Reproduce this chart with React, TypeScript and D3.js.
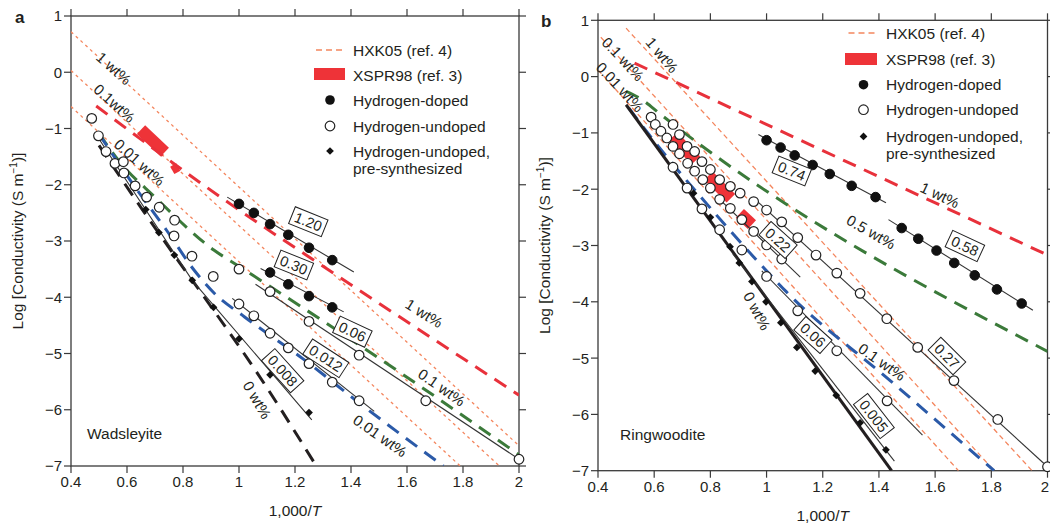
import React from 'react';
import * as d3 from 'd3';

type P = [number, number];

// ---------------- shared axis ticks ----------------
const xTickValues = [0.4, 0.6, 0.8, 1.0, 1.2, 1.4, 1.6, 1.8, 2.0];
const xTickLabels = ['0.4', '0.6', '0.8', '1', '1.2', '1.4', '1.6', '1.8', '2'];
const yTickValues = [1, 0, -1, -2, -3, -4, -5, -6, -7];
const yTickLabels = ['1', '0', '−1', '−2', '−3', '−4', '−5', '−6', '−7'];

// ---------------- panel a: wadsleyite ----------------
const aHxk1: P[] = [[0.4, 0.72], [2.0, -6.64]];
const aHxk01: P[] = [[0.4, 0.03], [1.93, -7.0]];
const aHxk001: P[] = [[0.4, -0.61], [1.79, -7.0]];
const aModel1: P[] = [[0.49, -0.6], [0.98, -2.38], [1.34, -3.58], [2.0, -5.74]];
const aModel01: P[] = [[0.5, -1.09], [0.57, -1.57], [0.7, -2.22], [0.91, -3.16], [1.0, -3.45], [1.43, -4.85], [2.0, -6.8]];
const aModel001: P[] = [[0.5, -1.1], [0.64, -2.12], [0.74, -2.8], [0.84, -3.52], [0.91, -3.92], [1.02, -4.35], [1.23, -5.1], [1.44, -5.92], [1.73, -7.0]];
const aModel0: P[] = [[0.5, -1.3], [0.656, -2.45], [0.78, -3.33], [0.875, -3.99], [1.063, -5.33], [1.276, -7.0]];
const aXspr: P[][] = [[[0.65, -1.02], [0.735, -1.42]], [[0.765, -1.65], [0.78, -1.78]]];
const aFit120: P[] = [[0.958, -2.22], [1.41, -3.55]];
const aFit030: P[] = [[1.077, -3.49], [1.374, -4.26]];
const aFit006: P[] = [[1.059, -3.77], [2.0, -6.88]];
const aFit0012: P[] = [[0.976, -4.02], [1.483, -6.03]];
const aFit0008: P[] = [[0.49, -1.11], [0.833, -3.7], [1.26, -6.18]];
const aDoped120: P[] = [[1.0, -2.34], [1.053, -2.5], [1.111, -2.7], [1.176, -2.89], [1.25, -3.12], [1.333, -3.34]];
const aDoped030: P[] = [[1.111, -3.56], [1.176, -3.77], [1.25, -3.98], [1.333, -4.18]];
const aUndopedHighT: P[] = [[0.474, -0.82], [0.498, -1.13], [0.525, -1.41], [0.557, -1.62], [0.587, -1.59], [0.589, -1.79], [0.629, -2.02], [0.67, -2.22], [0.715, -2.4], [0.77, -2.63], [0.768, -2.91], [0.832, -3.27], [0.908, -3.63]];
const aUndoped006: P[] = [[1.0, -3.5], [1.111, -3.9], [1.25, -4.43], [1.429, -5.03], [1.667, -5.84], [2.0, -6.88]];
const aUndoped0012: P[] = [[1.0, -4.12], [1.053, -4.33], [1.111, -4.64], [1.176, -4.9], [1.25, -5.18], [1.333, -5.51], [1.429, -5.84]];
const aPresynth: P[] = [[0.667, -2.44], [0.714, -2.85], [0.769, -3.25], [0.833, -3.7], [0.909, -4.18], [1.0, -4.74], [1.111, -5.38], [1.25, -6.05]];
const aBoxLabels = ['1.20', '0.30', '0.06', '0.012', '0.008'];
const aBoxAt: P[] = [[1.2475, -2.657], [1.196, -3.427], [1.405, -4.612], [1.31, -5.085], [1.156, -5.306]];
const aBoxRot = [22, 22, 25, 33, 48];
const aLineLabels = ['1 wt%', '0.1 wt%', '0.01 wt%', '0 wt%', '1 wt%', '0.1wt%', '0.01 wt%'];
const aLineLabelAt: P[] = [[1.661, -4.285], [1.724, -5.601], [1.504, -6.461], [1.065, -5.827], [0.553, 0.07], [0.555, -0.55], [0.645, -1.6]];
const aLineLabelRot = [32, 35, 35, 60, 42, 42, 42];

// ---------------- panel b: ringwoodite ----------------
const bHxk1: P[] = [[0.5, 0.86], [1.945, -7.0]];
const bHxk01: P[] = [[0.41, 0.7], [1.81, -7.0]];
const bHxk001: P[] = [[0.4, 0.12], [1.683, -7.0]];
const bModel1: P[] = [[0.53, 0.24], [2.0, -3.17]];
const bModel05: P[] = [[0.5, -0.26], [0.56, -0.42], [0.62, -0.66], [2.0, -4.88]];
const bModel01: P[] = [[0.51, -0.56], [0.58, -1.02], [0.82, -2.45], [0.95, -3.18], [1.07, -3.82], [1.44, -5.4], [1.81, -7.0]];
const bModel0: P[] = [[0.5, -0.5], [1.445, -7.0]];
const bXspr: P[][] = [[[0.668, -1.06], [0.748, -1.49]], [[0.793, -1.76], [0.873, -2.16]], [[0.905, -2.43], [0.948, -2.63]]];
const bFit074: P[] = [[0.971, -1.03], [1.425, -2.24]];
const bFit058: P[] = [[1.434, -2.54], [1.948, -4.15]];
const bFit027: P[] = [[0.97, -2.23], [2.0, -6.93]];
const bFit022: P[] = [[0.82, -2.12], [1.12, -3.56]];
const bFit006: P[] = [[0.983, -3.45], [1.555, -6.37]];
const bFit0005: P[] = [[0.88, -3.15], [1.455, -6.83]];
const bDoped074: P[] = [[1.0, -1.13], [1.05, -1.26], [1.1, -1.4], [1.164, -1.57], [1.225, -1.73], [1.303, -1.94], [1.388, -2.14]];
const bDoped058: P[] = [[1.481, -2.69], [1.54, -2.88], [1.605, -3.09], [1.668, -3.31], [1.741, -3.53], [1.82, -3.78], [1.908, -4.03]];
const bUndopedHighT: P[] = [[0.589, -0.72], [0.604, -0.85], [0.624, -0.97], [0.645, -1.09], [0.667, -0.85], [0.69, -1.03], [0.667, -1.24], [0.69, -1.37], [0.717, -1.24], [0.744, -1.33], [0.719, -1.54], [0.744, -1.68], [0.77, -1.51], [0.8, -1.65], [0.773, -1.83], [0.8, -1.98], [0.667, -1.61], [0.717, -1.98], [0.77, -2.35], [0.833, -2.72], [0.912, -3.08]];
const bUndoped027: P[] = [[0.833, -1.83], [0.871, -1.95], [0.906, -2.07], [0.954, -2.22], [1.0, -2.37], [1.054, -2.58], [1.111, -2.86], [1.176, -3.17], [1.25, -3.49], [1.333, -3.85], [1.428, -4.3], [1.538, -4.81], [1.667, -5.4], [1.823, -6.09], [2.0, -6.93]];
const bUndoped022: P[] = [[0.833, -2.18], [0.871, -2.34], [0.912, -2.54], [0.954, -2.75], [1.0, -2.99], [1.054, -3.24]];
const bUndoped006: P[] = [[1.0, -3.55], [1.111, -4.16], [1.25, -4.87], [1.429, -5.76]];
const bPresynth: P[] = [[0.74, -2.07], [0.8, -2.5], [0.87, -3.02], [0.903, -3.31], [0.948, -3.64], [0.998, -4.0], [1.051, -4.37], [1.108, -4.81], [1.173, -5.23], [1.248, -5.66], [1.333, -6.15], [1.425, -6.63]];
const bBoxLabels = ['0.74', '0.58', '0.22', '0.27', '0.06', '0.005'];
const bBoxAt: P[] = [[1.09, -1.677], [1.706, -3.009], [1.041, -2.902], [1.642, -4.963], [1.165, -4.59], [1.382, -6.029]];
const bBoxRot = [22, 25, 42, 45, 42, 52];
const bLineLabels = ['1 wt%', '0.5 wt%', '0.1 wt%', '0 wt%', '1 wt%', '0.1 wt%', '0.01 wt%'];
const bLineLabelAt: P[] = [[1.617, -2.103], [1.372, -2.76], [1.411, -5.069], [0.966, -4.163], [0.628, 0.384], [0.489, 0.313], [0.478, -0.185]];
const bLineLabelRot = [25, 30, 35, 62, 50, 47, 47];

const legendLabels = ['HXK05 (ref. 4)', 'XSPR98 (ref. 3)', 'Hydrogen-doped', 'Hydrogen-undoped', 'Hydrogen-undoped,', 'pre-synthesized'];

// ---------------- styles ----------------
const FONT = "'Liberation Sans', Arial, Helvetica, sans-serif";
const TXT = '#231f20';
const AX = '#3a3a3a';
const C_RED = '#e8313b';
const C_GREEN = '#3b7a3a';
const C_BLUE = '#2b5aa8';
const C_BLACK = '#231f20';
const C_ORANGE = '#f4865e';
const C_XSPR = '#ee3338';
const SVG_W = 1050;

function textWidth(t: string, fs: number) {
  let w = 0;
  for (const c of t) w += c === '.' ? 0.278 : 0.556;
  return w * fs;
}

interface Cfg {
  letter: string;
  mineral: string;
  left: number; right: number; top: number; bottom: number;
  hxk: P[][]; hxkDash: string;
  models: { pts: P[]; color: string; solid?: boolean }[];
  xspr: P[][];
  fits: P[][];
  doped: P[][];
  undoped: P[][];
  presynth: P[];
  boxLabels: string[]; boxAt: P[]; boxRot: number[];
  lineLabels: string[]; lineLabelAt: P[]; lineLabelRot: number[];
  legend: { mx: number; lx0: number; lx1: number; tx: number; rows: number[]; rect: [number, number, number, number] };
  yLabelX: number; xLabelY: number; mineralX: number; mineralY: number; letterX: number; letterY: number;
}

function Panel({ cfg }: { cfg: Cfg }) {
  const x = d3.scaleLinear().domain([0.4, 2.0]).range([cfg.left, cfg.right]);
  const y = d3.scaleLinear().domain([-7, 1]).range([cfg.bottom, cfg.top]);
  const line = d3.line<P>().x(d => x(d[0])).y(d => y(d[1]));
  const curve = d3.line<P>().x(d => x(d[0])).y(d => y(d[1])).curve(d3.curveMonotoneX);
  const clipId = 'clip-' + cfg.letter;
  const diamond = d3.symbol().type(d3.symbolSquare).size(30)();
  const r = 4.8;
  const lg = cfg.legend;
  const midY = (cfg.top + cfg.bottom) / 2;
  const midX = (cfg.left + cfg.right) / 2;
  return (
    <g>
      <defs>
        <clipPath id={clipId}>
          <rect x={cfg.left} y={cfg.top} width={cfg.right - cfg.left} height={cfg.bottom - cfg.top} />
        </clipPath>
      </defs>
      <rect x={cfg.left} y={cfg.top} width={cfg.right - cfg.left} height={cfg.bottom - cfg.top} fill="none" stroke={AX} strokeWidth={1.3} />
      {xTickValues.map((v, i) => {
        const px = x(v);
        const fits = px + 6 <= SVG_W;
        return (
          <g key={'xt' + i}>
            <line x1={px} x2={px} y1={cfg.bottom} y2={cfg.bottom + 7} stroke={AX} strokeWidth={1.2} />
            <line x1={px} x2={px} y1={cfg.top} y2={cfg.top - 7} stroke={AX} strokeWidth={1.2} />
            <text x={fits ? px : SVG_W - 1} y={cfg.bottom + 21} textAnchor={fits ? 'middle' : 'end'} fontSize={15} fill={TXT}>{xTickLabels[i]}</text>
          </g>
        );
      })}
      {yTickValues.map((v, i) => (
        <g key={'yt' + i}>
          <line x1={cfg.left} x2={cfg.left - 7} y1={y(v)} y2={y(v)} stroke={AX} strokeWidth={1.2} />
          <line x1={cfg.right} x2={cfg.right + 7} y1={y(v)} y2={y(v)} stroke={AX} strokeWidth={1.2} />
          <text x={cfg.left - 9} y={y(v)} dy="0.36em" textAnchor="end" fontSize={15} fill={TXT}>{yTickLabels[i]}</text>
        </g>
      ))}
      <text transform={`translate(${cfg.yLabelX},${midY}) rotate(-90)`} textAnchor="middle" fontSize={15.5} fill={TXT}>
        Log [Conductivity (S m<tspan dy={-6} fontSize={10}>−1</tspan><tspan dy={6}>)]</tspan>
      </text>
      <text x={midX} y={cfg.xLabelY} textAnchor="middle" fontSize={15.5} fill={TXT}>
        1,000/<tspan fontStyle="italic">T</tspan>
      </text>
      <text x={cfg.letterX} y={cfg.letterY} fontSize={17} fontWeight="bold" fill={TXT}>{cfg.letter}</text>
      <text x={cfg.mineralX} y={cfg.mineralY} fontSize={15.5} fill={TXT}>{cfg.mineral}</text>

      <g clipPath={`url(#${clipId})`}>
        {cfg.hxk.map((pts, i) => (
          <path key={'h' + i} d={line(pts) || ''} fill="none" stroke={C_ORANGE} strokeWidth={1.3} strokeDasharray={cfg.hxkDash} />
        ))}
        {cfg.xspr.map((pts, i) => (
          <path key={'xs' + i} d={line(pts) || ''} fill="none" stroke={C_XSPR} strokeWidth={i === 1 && cfg.letter === 'a' ? 7 : 12} />
        ))}
        {cfg.models.map((m, i) => (
          <path key={'m' + i} d={curve(m.pts) || ''} fill="none" stroke={m.color} strokeWidth={3} strokeDasharray={m.solid ? undefined : '14,9'} />
        ))}
      </g>
      {cfg.fits.map((pts, i) => (
        <path key={'f' + i} d={line(pts) || ''} fill="none" stroke="#333" strokeWidth={1.1} />
      ))}
      {cfg.presynth.map((d, i) => (
        <path key={'ps' + i} d={diamond || ''} transform={`translate(${x(d[0])},${y(d[1])}) rotate(45)`} fill="#111" />
      ))}
      {cfg.undoped.map((s, si) => s.map((d, i) => (
        <circle key={'u' + si + '-' + i} cx={x(d[0])} cy={y(d[1])} r={r} fill="#fff" stroke="#222" strokeWidth={1.2} />
      )))}
      {cfg.doped.map((s, si) => s.map((d, i) => (
        <circle key={'d' + si + '-' + i} cx={x(d[0])} cy={y(d[1])} r={r} fill="#111" stroke="#111" strokeWidth={1} />
      )))}
      {cfg.boxLabels.map((t, i) => {
        const w = textWidth(t, 14.5) + 7;
        const h = 18;
        return (
          <g key={'bl' + i} transform={`translate(${x(cfg.boxAt[i][0])},${y(cfg.boxAt[i][1])}) rotate(${cfg.boxRot[i]})`}>
            <rect x={-w / 2} y={-h / 2} width={w} height={h} fill="#fff" stroke="#222" strokeWidth={1} />
            <text textAnchor="middle" dy="0.36em" fontSize={14.5} fill={TXT}>{t}</text>
          </g>
        );
      })}
      {cfg.lineLabels.map((t, i) => (
        <text key={'ll' + i} transform={`translate(${x(cfg.lineLabelAt[i][0])},${y(cfg.lineLabelAt[i][1])}) rotate(${cfg.lineLabelRot[i]})`}
          textAnchor="middle" dy="0.36em" fontSize={15} fill={TXT}>{t}</text>
      ))}
      <line x1={lg.lx0} x2={lg.lx1} y1={lg.rows[0]} y2={lg.rows[0]} stroke={C_ORANGE} strokeWidth={1.6} strokeDasharray="6,4" />
      <rect x={lg.rect[0]} y={lg.rect[1]} width={lg.rect[2]} height={lg.rect[3]} fill={C_XSPR} />
      <circle cx={lg.mx} cy={lg.rows[2]} r={r} fill="#111" />
      <circle cx={lg.mx} cy={lg.rows[3]} r={r} fill="#fff" stroke="#222" strokeWidth={1.2} />
      <path d={diamond || ''} transform={`translate(${lg.mx},${lg.rows[4]}) rotate(45)`} fill="#111" />
      {legendLabels.map((t, i) => (
        <text key={'lg' + i} x={lg.tx} y={lg.rows[i]} dy="0.36em" fontSize={15.5} fill={TXT}>{t}</text>
      ))}
    </g>
  );
}

const cfgA: Cfg = {
  letter: 'a', mineral: 'Wadsleyite',
  left: 71, right: 519, top: 16, bottom: 466,
  hxk: [aHxk1, aHxk01, aHxk001], hxkDash: '3,3.5',
  models: [
    { pts: aModel1, color: C_RED },
    { pts: aModel01, color: C_GREEN },
    { pts: aModel001, color: C_BLUE },
    { pts: aModel0, color: C_BLACK },
  ],
  xspr: aXspr,
  fits: [aFit120, aFit030, aFit006, aFit0012, aFit0008],
  doped: [aDoped120, aDoped030],
  undoped: [aUndopedHighT, aUndoped006, aUndoped0012],
  presynth: aPresynth,
  boxLabels: aBoxLabels, boxAt: aBoxAt, boxRot: aBoxRot,
  lineLabels: aLineLabels, lineLabelAt: aLineLabelAt, lineLabelRot: aLineLabelRot,
  legend: { mx: 330, lx0: 316, lx1: 344, tx: 353, rows: [50, 75, 100, 126, 151, 168], rect: [314, 68, 31, 12] },
  yLabelX: 23, xLabelY: 516, mineralX: 87, mineralY: 439, letterX: 15, letterY: 23,
};

const cfgB: Cfg = {
  letter: 'b', mineral: 'Ringwoodite',
  left: 598, right: 1047.5, top: 20.3, bottom: 470.7,
  hxk: [bHxk1, bHxk01, bHxk001], hxkDash: '5,3.5',
  models: [
    { pts: bModel1, color: C_RED },
    { pts: bModel05, color: C_GREEN },
    { pts: bModel01, color: C_BLUE },
    { pts: bModel0, color: C_BLACK, solid: true },
  ],
  xspr: bXspr,
  fits: [bFit074, bFit058, bFit027, bFit022, bFit006, bFit0005],
  doped: [bDoped074, bDoped058],
  undoped: [bUndopedHighT, bUndoped027, bUndoped022, bUndoped006],
  presynth: bPresynth,
  boxLabels: bBoxLabels, boxAt: bBoxAt, boxRot: bBoxRot,
  lineLabels: bLineLabels, lineLabelAt: bLineLabelAt, lineLabelRot: bLineLabelRot,
  legend: { mx: 863.5, lx0: 848.5, lx1: 877, tx: 886, rows: [33, 59, 84.7, 109.7, 136.4, 153.1], rect: [845, 53, 32, 12] },
  yLabelX: 550, xLabelY: 521, mineralX: 620, mineralY: 440, letterX: 541, letterY: 27,
};

export default function App() {
  return (
    <svg width={1050} height={526} viewBox="0 0 1050 526"
      style={{ position: 'absolute', left: 0, top: 0, background: '#fff', fontFamily: FONT }}>
      <rect x={0} y={0} width={1050} height={526} fill="#fff" />
      <Panel cfg={cfgA} />
      <Panel cfg={cfgB} />
    </svg>
  );
}
